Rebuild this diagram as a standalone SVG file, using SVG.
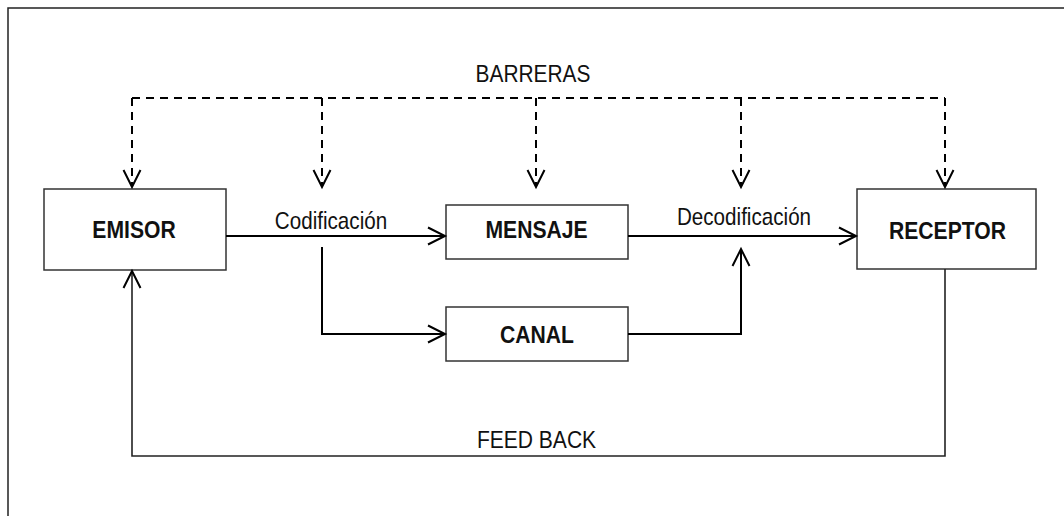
<svg xmlns="http://www.w3.org/2000/svg" width="1064" height="516" viewBox="0 0 1064 516">
<defs>
<style>
.box{fill:#fff;stroke:#333;stroke-width:1.5}
.lbl{font-family:"Liberation Sans",Arial,sans-serif;font-size:24px;fill:#111;text-anchor:middle}
.b{font-weight:bold}
.con{fill:none;stroke:#000;stroke-width:2}
.dash{fill:none;stroke:#000;stroke-width:2;stroke-dasharray:8,6}
.fb{fill:none;stroke:#222;stroke-width:1.6}
</style>
<marker id="ah" markerUnits="userSpaceOnUse" markerWidth="24" markerHeight="24" viewBox="-20 -12 22 24" refX="0" refY="0" orient="auto">
<path d="M-17,-8.5 L0,0 L-17,8.5" fill="none" stroke="#000" stroke-width="2"/>
</marker>
</defs>
<rect width="1064" height="516" fill="#fff"/>
<rect x="8" y="8" width="1100" height="600" fill="none" stroke="#222" stroke-width="1.5"/>
<g id="emisor"><rect class="box" x="44" y="189" width="182" height="81"/><text class="lbl b" transform="translate(134,238) scale(0.88,1)">EMISOR</text></g>
<g id="mensaje"><rect class="box" x="446" y="205" width="182" height="54"/><text class="lbl b" transform="translate(536.5,237.5) scale(0.88,1)">MENSAJE</text></g>
<g id="canal"><rect class="box" x="446" y="307" width="182" height="54"/><text class="lbl b" transform="translate(537,343) scale(0.88,1)">CANAL</text></g>
<g id="receptor"><rect class="box" x="857" y="189" width="179" height="80"/><text class="lbl b" transform="translate(947.5,239) scale(0.88,1)">RECEPTOR</text></g>
<g id="labels">
<text class="lbl" transform="translate(533,81.5) scale(0.87,1)">BARRERAS</text>
<text class="lbl" transform="translate(331,229) scale(0.86,1)">Codificación</text>
<text class="lbl" transform="translate(744,225) scale(0.86,1)">Decodificación</text>
<text class="lbl" transform="translate(536.5,447.5) scale(0.877,1)">FEED BACK</text>
</g>
<g id="connectors">
<path class="dash" d="M132,98 H945"/>
<path class="dash" d="M132,98 V187" marker-end="url(#ah)"/>
<path class="dash" d="M322,98 V187" marker-end="url(#ah)"/>
<path class="dash" d="M536,98 V187" marker-end="url(#ah)"/>
<path class="dash" d="M741,98 V187" marker-end="url(#ah)"/>
<path class="dash" d="M945,98 V187" marker-end="url(#ah)"/>
<path class="con" d="M226,236 H445" marker-end="url(#ah)"/>
<path class="con" d="M628,236 H856" marker-end="url(#ah)"/>
<path class="con" d="M322,247 V334 H445" marker-end="url(#ah)"/>
<path class="con" d="M628,334 H741 V249" marker-end="url(#ah)"/>
<path class="fb" d="M945,269 V456 H132 V271" marker-end="url(#ah)"/>
</g>
</svg>
